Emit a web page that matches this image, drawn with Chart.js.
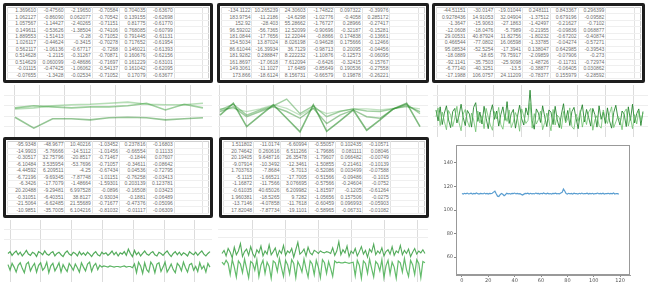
<!DOCTYPE html>
<html><head><meta charset="utf-8">
<script src="https://cdn.jsdelivr.net/npm/chart.js@4.4.0/dist/chart.umd.min.js"></script>
<style>
html,body{margin:0;padding:0;background:#fff;width:653px;height:285px;overflow:hidden;position:relative;font-family:"Liberation Sans","DejaVu Sans",sans-serif;}
.cv{position:absolute;z-index:1;}
.tbl{position:absolute;border:3px solid #1e1e1e;border-radius:2px;box-sizing:border-box;background:#fff;z-index:2;padding:1px;}
.tbl table{border-collapse:collapse;width:100%;height:100%;table-layout:fixed;border:1px solid #cfcfcf;}
.tbl td{font-size:5px;line-height:5px;color:#6e6e6e;text-align:right;padding:0 1px;border-left:1px solid #e2e2e2;border-bottom:1px solid #efefef;white-space:nowrap;overflow:hidden;}
</style>
</head><body>
<div id="t1" class="tbl" style="left:3px;top:3px;width:210px;height:80px"></div>
<div id="t2" class="tbl" style="left:217px;top:3px;width:212px;height:80px"></div>
<div id="t3" class="tbl" style="left:432px;top:3px;width:213px;height:80px"></div>
<div id="t4" class="tbl" style="left:3px;top:137px;width:210px;height:81px"></div>
<div id="t5" class="tbl" style="left:219px;top:137px;width:210px;height:81px"></div>

<div class="cv" style="left:4px;top:85px;width:208px;height:52px"><canvas id="c1" width="208" height="52"></canvas></div>
<div class="cv" style="left:218px;top:85px;width:210px;height:52px"><canvas id="c2" width="210" height="52"></canvas></div>
<div class="cv" style="left:433px;top:85px;width:215px;height:52px"><canvas id="c3" width="215" height="52"></canvas></div>
<div class="cv" style="left:4px;top:220px;width:208px;height:62px"><canvas id="c4" width="208" height="62"></canvas></div>
<div class="cv" style="left:218px;top:220px;width:210px;height:62px"><canvas id="c5" width="210" height="62"></canvas></div>
<div class="cv" style="left:440px;top:140px;width:213px;height:145px"><canvas id="c6" width="213" height="145"></canvas></div>

<script>
// ---------- table data ----------
const table1 = [
["1.369610","-0.47560","-2.19650","-0.70584","0.704035","-0.63670"],
["1.062127","-0.86090","0.062077","-0.70542","0.139155","-0.62698"],
["1.057567","-1.14427","-2.40265","-0.71151","0.81775","-0.61770"],
["0.149611","-0.53626","-1.38504","-0.74106","0.768085","-0.60799"],
["1.889553","-1.51413","-0.28","-0.71052","0.791445","-0.61131"],
["1.026117","-0.44624","-0.3415","-0.70278","0.717652","-0.61954"],
["0.562117","-1.06136","-0.67717","-0.7268","0.146021","-0.61393"],
["0.514628","-1.2115","-0.31267","-0.70871","0.160676","-0.62156"],
["0.514629","0.060099","-0.48686","-0.71697","0.161229","-0.63101"],
["-0.01115","-0.47425","-1.06062","-0.54137","0.161042","-0.62095"],
["-0.07655","-1.3428","-0.02534","-0.71052","0.17079","-0.63677"]];
const table2 = [
["-134.1122","10.265239","24.30603","-1.74822","0.097322","-0.39976"],
["183.9754","-11.2186","-14.6298","-1.02776","-0.4058","0.285172"],
["152.92","-28.403","55.28662","-1.76727","0.28966","-0.27417"],
["96.59202","-56.7365","12.52099","-0.90696","-0.32187","-0.15281"],
["181.0844","-17.7656","12.22044","-0.8866","0.174838","-0.13661"],
["154.5034","13.87024","8.026198","-0.94628","0.175666","-0.12466"],
["86.61044","-16.39934","36.7129","-0.98713","0.20095","-0.04456"],
["181.9282","0.288847","8.222232","-1.10876","-0.12573","-0.06095"],
["161.8697","-17.0618","7.612094","-0.6426","-0.32415","-0.15767"],
["149.3061","-11.1027","17.6489","-0.85649","0.190536","-0.27558"],
["173.866","-18.6124","8.156731","-0.66579","0.19878","-0.26221"]];
const table3 = [
["-44.51151","-30.0147","-19.01044","0.248111","0.843367","0.296399"],
["0.9278436","14.91053","32.04904","-1.37512","0.679196","-0.09582"],
["-1.3647","-15.9063","-27.1863","-1.42497","-0.21627","-0.7102"],
["-12.0608","-18.0476","-5.7989","-0.21955","-0.09836","0.068877"],
["29.00531","40.87924","11.82756","-1.80232","-0.67202","-0.40874"],
["0.466544","-77.0802","16.06598","-1.33785","-0.04274","-0.57271"],
["95.08534","-52.5254","-17.3941","0.138047","0.642985","-0.39543"],
["-18.0889","-18.65","79.75917","-2.09859","-0.07906","-0.273"],
["-92.1141","-35.7503","-25.9098","-1.48726","-0.11731","-0.72974"],
["-6.77140","-40.3251","-13.5","-0.38877","-0.06405","0.030862"],
["-17.1988","106.0757","24.11209","-0.78377","0.155979","-0.28592"]];
const table4 = [
["-95.9348","-48.9677","10.40216","-1.03452","0.237816","-0.16803"],
["-14.9903","-5.76666","-14.5112","-1.01456","-0.66554","0.11133"],
["-0.30517","32.75796","-20.8517","-0.71467","-0.1844","0.07607"],
["-6.10484","3.535954","-53.7696","-0.71057","-0.34611","-0.08642"],
["-4.44592","6.209511","-4.25","-0.67434","0.04536","-0.72795"],
["-6.72196","-9.69345","-7.87748","-1.01151","-0.76258","-0.03413"],
["-6.3426","-17.7079","-1.48664","-1.59301","0.203139","0.123781"],
["20.20488","-9.29481","6.997528","-0.0896","-0.16508","0.03423"],
["-0.31051","-6.40351","38.8127","-0.93034","-0.1881","-0.06489"],
["-21.5064","-6.62485","21.55689","-0.71677","-0.47376","-0.05096"],
["-10.9851","-35.7005","6.104216","-0.81032","-0.01117","-0.06309"]];
const table5 = [
["1.511802","-11.0174","-6.60994","-0.55057","0.102435","-0.10571"],
["20.74642","0.260616","6.511266","-1.79686","0.081111","0.08046"],
["20.19405","9.648716","26.35478","-1.79607","0.066482","-0.00749"],
["-9.07914","-10.3492","-12.3461","-1.50855","-0.21461","-0.10139"],
["1.703763","-7.8684","-5.7013","-0.52086","0.003499","-0.07588"],
["-5.1115","-1.66521","-17.7005","-0.51566","-0.09486","-0.1015"],
["-1.16872","-11.7566","3.076695","-0.57566","-0.24604","-0.0752"],
["-0.61035","40.65026","6.209982","-1.81597","-0.1205","-0.61264"],
["1.960381","-18.5265","9.7282","-1.05656","0.157506","-0.0275"],
["-13.7146","-4.07858","-11.7618","-0.60459","0.096993","-0.05903"],
["17.82048","-7.87734","-19.1101","-0.58965","-0.06731","-0.01082"]];

// ---------- series data ----------
const c1A = [3.8,1.7,3.5,3.5,3.3,3.7,3.8,3.7,3.3,3.5,3.7];
const c1B = [5.6,6.0,5.8,5.6,5.8,5.8,6.0,6.5,5.2,6.3,5.6];
const c1C = [5.4,5.6,6.0,6.2,6.3,6.5,6.7,6.3,6.2,6.2,6.5];

const c2A = [4.2,6.5,2.0,4.1,6.2,3.6,1.0,6.2,1.1,3.1,5.2,1.3,3.3,5.4,6.5,2.0];
const c2B = [5.2,6.3,4.2,5.2,6.0,7.3,4.5,6.0,3.9,4.9,5.4,5.0,4.9,5.4,6.3,4.5];
const c2C = [4.9,5.8,3.9,4.9,5.8,4.9,3.6,5.5,2.6,4.2,5.2,3.9,3.6,5.4,6.0,4.9];
const c2D = [5.4,5.5,4.9,5.4,6.2,5.5,4.2,5.6,4.5,5.0,5.4,5.4,5.2,5.5,5.8,5.4];

const c3Dark = [5.2,3.1,5.8,2.4,4.6,6.0,3.3,1.8,4.9,5.5,
2.7,4.1,6.3,3.8,2.2,5.1,4.4,1.9,5.7,6.6,
3.0,4.8,2.5,5.9,3.6,1.6,4.7,6.2,3.4,5.0,
2.1,4.3,5.8,3.2,6.8,2.6,4.5,5.3,1.7,4.0,
6.1,3.5,2.3,5.6,4.2,9.0,3.1,1.5,5.4,4.6,
2.8,6.0,3.9,2.0,5.2,4.8,2.4,5.9,3.3,1.8,
4.4,6.4,3.0,5.1,2.2,4.9,5.7,3.6,1.6,4.6,
6.2,2.9,5.3,3.8,2.1,5.5,4.3,1.9,6.0,3.4,
4.8,2.6,5.6,3.1,1.7,4.7,6.1,3.7,2.3,5.0,
4.4,2.0,5.8,3.2,6.3,2.7,4.5,5.4,2.2,4.9];
const c3Light = [3.9,5.6,2.2,4.8,3.0,1.4,5.1,4.2,2.0,3.7,
5.9,2.8,1.2,4.4,5.3,3.1,1.9,4.6,3.3,1.0,
5.0,2.7,4.1,1.6,5.5,3.8,2.3,1.3,4.9,3.5,
5.7,2.4,1.5,4.3,3.0,5.2,1.8,2.9,4.7,3.6,
1.1,5.4,4.0,2.6,3.2,6.5,1.7,4.5,2.5,3.4,
5.0,1.4,2.8,4.6,3.1,1.2,5.3,2.3,4.2,3.7,
1.6,4.9,2.7,3.5,5.6,2.0,1.5,4.4,3.0,5.1,
1.9,3.9,2.4,4.8,5.5,1.3,3.3,4.1,2.2,1.7,
5.2,3.6,2.6,4.5,5.8,1.8,2.9,4.0,3.4,1.4,
4.7,5.4,2.1,3.8,1.6,4.3,2.5,5.0,3.2,4.6];

const c4Upper = [4.6,4.9,4.3,4.7,5.0,4.4,4.8,4.2,4.6,5.1,
4.5,4.3,4.8,4.6,4.1,4.9,4.7,4.4,5.0,4.5,
4.3,4.7,4.9,4.2,4.6,4.8,4.4,4.1,4.7,5.0,
4.5,4.3,4.8,4.6,4.2,4.9,4.4,4.7,4.3,4.8,
4.5,4.1,4.6,4.9,4.4,4.2,4.8,4.5,4.7,4.3,
4.6,5.0,4.4,4.8,4.2,4.7,4.5,4.9,4.3,5.3,
4.6,4.1,5.1,4.4,4.8,4.2,4.6,5.0,4.5,4.3,
4.7,4.9,4.4,4.2,4.8,4.6,4.3,4.7,5.0,4.5,
4.1,4.6,4.9,4.4,4.8,4.3,4.7,4.5,4.2,4.9,
4.6,4.4,4.8,4.3,4.7,5.0,4.5,4.2,4.6,4.9];
const c4Lower = [2.8,1.9,3.0,2.4,1.6,2.7,3.1,2.2,1.5,2.9,
3.2,1.8,2.5,3.0,1.6,2.7,3.1,1.9,2.3,3.2,
1.5,2.6,3.0,1.8,2.4,3.1,1.6,2.8,2.2,1.7,
3.0,2.5,1.9,2.9,2.3,1.6,3.1,2.4,1.8,2.9,
3.2,1.7,2.6,3.0,2.0,2.7,2.4,2.6,2.5,2.4,
2.6,2.5,2.4,2.5,2.5,2.4,2.5,2.6,2.4,2.5,
2.5,2.3,2.9,1.5,3.2,2.6,1.4,3.1,2.0,1.6,
3.2,2.7,1.5,2.9,3.1,1.7,2.4,3.2,1.6,2.2,
2.9,2.0,1.5,3.0,2.6,1.8,3.2,2.3,1.6,2.8,
3.0,1.9,2.5,1.7,3.1,2.1,2.6,1.6,3.0,2.4];

const c5Upper = [4.6,5.1,4.2,5.4,4.8,3.9,5.6,4.4,5.0,6.2,
4.1,4.9,5.3,4.3,5.7,4.6,4.0,5.2,4.7,5.8,
4.2,5.0,4.5,6.0,4.4,4.9,5.5,4.1,5.1,4.6,
5.9,4.3,5.0,4.7,5.4,4.0,5.2,6.4,4.5,4.8,
5.3,4.2,5.6,4.7,4.4,5.1,4.9,4.6,5.0,4.8,
4.7,4.9,4.8,4.6,5.5,4.3,5.0,6.5,4.4,5.2,
4.7,5.8,4.1,5.0,4.6,5.4,4.2,4.9,5.7,4.5,
5.1,4.0,5.3,4.8,6.1,4.4,5.0,4.6,5.5,4.2,
4.9,5.2,4.5,5.7,4.3,5.0,4.7,5.9,4.4,5.1,
4.6,5.3,4.1,4.8,5.4,4.5,5.0,4.7,5.2,4.6];
const c5Lower = [3.2,2.8,3.5,3.0,1.2,3.6,2.4,0.8,3.4,2.9,
1.5,3.7,2.2,0.7,3.3,3.0,1.9,3.6,0.9,2.7,
3.5,1.4,3.2,2.5,0.6,3.4,3.1,1.7,3.8,2.3,
0.9,3.5,2.8,1.3,3.6,3.0,0.7,3.3,2.6,1.6,
3.7,2.1,0.8,3.4,2.9,1.2,3.5,2.4,0.7,3.6,
3.1,1.4,3.3,2.2,0.9,3.4,3.1,3.2,3.1,3.1,
3.2,3.1,3.0,3.1,3.2,1.0,3.5,2.7,0.6,3.4,
3.0,1.4,3.7,2.2,0.8,3.3,2.9,1.8,3.6,0.7,
2.6,3.5,1.3,3.2,2.4,0.6,3.4,3.1,1.6,3.8,
2.0,0.9,3.5,2.8,1.2,3.6,3.0,0.7,3.3,3.1];

const c6Values = [114.0,113.6,114.2,113.8,114.4,113.7,113.9,114.3,113.5,114.1,
113.8,114.5,113.9,113.6,114.2,114.0,113.7,114.4,113.8,114.1,
113.5,114.2,113.9,114.3,115.2,116.0,113.8,111.8,111.5,113.0,
114.1,113.4,112.2,113.0,114.3,113.8,114.0,113.6,114.2,113.9,
114.4,113.7,114.1,113.8,114.0,113.3,112.8,113.5,114.1,113.9,
114.3,113.6,114.2,113.8,114.0,113.7,114.4,113.9,114.1,113.6,
114.2,113.8,114.5,113.9,113.7,114.3,113.8,114.0,113.6,114.2,
113.9,114.3,113.7,114.0,113.8,114.4,115.0,117.8,116.2,114.0,
113.6,114.2,113.8,114.1,113.5,114.3,113.9,114.0,113.6,114.2,
113.8,114.4,113.7,114.0,113.9,114.3,113.6,114.1,113.8,114.2,
113.5,114.0,113.9,114.4,113.7,114.1,113.8,114.3,113.6,114.0,
113.9,114.2,113.7,114.1,113.8,114.4,113.6,114.0,113.9,113.5];
const c6XTicks = [0,20,40,60,80,100,120];
const c6YTicks = [60,80,100,120,140];

// ---------- tables ----------
function buildTable(id, rows){
  const el = document.getElementById(id);
  let h = '<table><colgroup><col style="width:15%">';
  for(let i=0;i<5;i++) h += '<col style="width:13.6%">';
  h += '<col style="width:14%"><col style="width:3%"></colgroup>';
  rows.forEach(r=>{
    h += '<tr>' + r.map(v=>'<td>'+v+'</td>').join('') + '<td></td><td></td></tr>';
  });
  h += '</table>';
  el.innerHTML = h;
}
buildTable('t1', table1); buildTable('t2', table2); buildTable('t3', table3);
buildTable('t4', table4); buildTable('t5', table5);

// ---------- small charts ----------
const idx = n => Array.from({length:n}, (_, i) => i);
function smallChart(id, series, colors, widths, xr, gx, gy){
  const n = series[0].length;
  new Chart(document.getElementById(id), {
    type: 'line',
    data: { labels: idx(n), datasets: series.map((s,i)=>({data:s, borderColor:colors[i], borderWidth:widths[i], pointRadius:0, tension:0, fill:false})) },
    options: {
      responsive:false, animation:false, events:[],
      layout:{padding:0},
      plugins:{legend:{display:false}, tooltip:{enabled:false}},
      scales:{
        x:{type:'linear', min:xr[0], max:xr[1], ticks:{display:false}, border:{display:false},
           grid:{color:'#dcdcdc', lineWidth:1, drawTicks:false},
           afterBuildTicks: a => { a.ticks = gx.map(v=>({value:v})); }},
        y:{type:'linear', min:0, max:10, ticks:{display:false}, border:{display:false},
           grid:{color:'#eeeeee', lineWidth:1, drawTicks:false},
           afterBuildTicks: a => { a.ticks = gy.map(v=>({value:v})); }}
      }
    }
  });
}
const steps = (start, step, count) => Array.from({length:count}, (_, k) => start + k*step);

smallChart('c1', [c1A, c1B, c1C],
  ['rgba(60,150,60,0.55)','rgba(60,160,60,0.5)','rgba(110,190,110,0.5)'], [1.6,1.6,1.6],
  [-0.585, 10.48], steps(0, 1.33, 8), [2,4,6,8]);
smallChart('c2', [c2A, c2B, c2C, c2D],
  ['rgba(40,140,40,0.6)','rgba(70,160,70,0.5)','rgba(60,150,60,0.5)','rgba(120,190,120,0.45)'], [1.6,1.4,1.4,1.2],
  [-0.15, 15.6], steps(0, 2, 8), [2,4,6,8]);
smallChart('c3', [c3Light, c3Dark],
  ['rgba(100,190,100,0.75)','rgba(30,130,40,0.85)'], [1,1],
  [-1.43, 101.4], steps(0.5, 13.4, 8), [2,4,6,8]);
smallChart('c4', [c4Upper, c4Lower],
  ['rgba(40,150,50,0.8)','rgba(50,160,60,0.8)'], [1.2,1.2],
  [-1.96, 100], steps(1, 15.1, 7), [6.8, 8.4]);
smallChart('c5', [c5Upper, c5Lower],
  ['rgba(40,150,50,0.8)','rgba(60,170,70,0.8)'], [1.1,1.2],
  [-1.95, 100.5], steps(15.1, 16.1, 6), [7.1, 8.4]);

// ---------- matplotlib-style chart ----------
new Chart(document.getElementById('c6'), {
  type:'line',
  data:{ labels: idx(c6Values.length), datasets:[{data:c6Values, borderColor:'rgba(60,140,200,0.85)', borderWidth:1.2, pointRadius:0, tension:0}] },
  options:{
    responsive:false, animation:false, events:[],
    layout:{padding:{left:0, top:5, right:23, bottom:0}},
    plugins:{legend:{display:false}, tooltip:{enabled:false}},
    scales:{
      x:{type:'linear', min:-4.5, max:127.5,
         ticks:{font:{size:5, family:'DejaVu Sans'}, color:'#555', padding:1, includeBounds:false, maxRotation:0, autoSkip:false},
         grid:{display:true, drawOnChartArea:false, drawTicks:true, tickLength:2, color:'#888'},
         border:{display:true, color:'#999', width:1},
         afterBuildTicks: a => { a.ticks = c6XTicks.map(v=>({value:v})); },
         afterFit: a => { a.height = 10; }},
      y:{type:'linear', min:44.7, max:155.3,
         ticks:{font:{size:5, family:'DejaVu Sans'}, color:'#555', padding:1, includeBounds:false, autoSkip:false},
         grid:{display:true, drawOnChartArea:false, drawTicks:true, tickLength:2, color:'#888'},
         border:{display:true, color:'#999', width:1},
         afterBuildTicks: a => { a.ticks = c6YTicks.map(v=>({value:v})); },
         afterFit: a => { a.width = 16; }}
    }
  },
  plugins:[{id:'frame', afterDraw(ch){ const {ctx, chartArea:c} = ch; ctx.save(); ctx.strokeStyle='#999'; ctx.lineWidth=1; ctx.strokeRect(c.left+0.5, c.top+0.5, c.right-c.left-1, c.bottom-c.top-1); ctx.restore(); }}]
});
</script>
</body></html>
